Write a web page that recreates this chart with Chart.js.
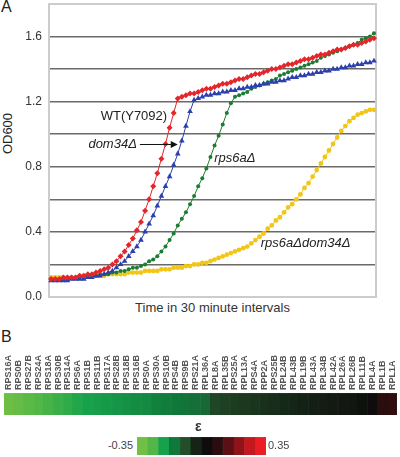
<!DOCTYPE html>
<html>
<head>
<meta charset="utf-8">
<script src="https://cdn.jsdelivr.net/npm/chart.js@4.4.1/dist/chart.umd.min.js"></script>
<style>
    html, body { margin: 0; padding: 0; background: #fff; }
    body { width: 400px; height: 457px; position: relative; overflow: hidden;
           font-family: "Liberation Sans", Arial, sans-serif; color: #222; }
    .abs { position: absolute; white-space: nowrap; }
    canvas { position: absolute; }
</style>
</head>
<body>
<div class="abs" style="left:1px; top:-2px; font-size:16px;">A</div>
<div class="abs" style="left:1px; top:328px; font-size:16px;">B</div>
<div class="abs" style="left:-15px; top:126px; font-size:13px; transform: rotate(-90deg); width:44px; text-align:center;">OD600</div>
<div class="abs" style="left:49px; top:300px; width:327px; text-align:center; font-size:13px; color:#333;">Time in 30 minute intervals</div>

<canvas id="growthChart" style="left:0; top:0;" width="400" height="320"></canvas>
<canvas id="heatStrip" style="left:0; top:340px;" width="400" height="80"></canvas>
<canvas id="scaleBar" style="left:137px; top:437px;" width="129" height="18"></canvas>

<div class="abs" style="left:100px; top:439px; width:33px; text-align:right; font-size:11px; color:#444;">-0.35</div>
<div class="abs" style="left:268px; top:439px; font-size:11px; color:#444;">0.35</div>
<div class="abs" style="left:195px; top:418px; font-size:14px; font-weight:bold; color:#333;">ε</div>

<script>
// --- Painel A: curvas de crescimento (OD600 a cada 30 min) ---
const wtValues = [
    0.11, 0.11, 0.11, 0.12, 0.12, 0.12, 0.12, 0.13, 0.13, 0.14,
    0.14, 0.15, 0.16, 0.17, 0.18, 0.20, 0.22, 0.25, 0.28, 0.32,
    0.36, 0.41, 0.46, 0.53, 0.60, 0.68, 0.76, 0.85, 0.94, 1.04,
    1.13, 1.22, 1.23, 1.24, 1.25, 1.25, 1.26, 1.27, 1.28, 1.28,
    1.29, 1.30, 1.31, 1.31, 1.32, 1.33, 1.34, 1.34, 1.35, 1.36,
    1.37, 1.37, 1.38, 1.39, 1.40, 1.40, 1.41, 1.42, 1.43, 1.43,
    1.44, 1.45, 1.46, 1.46, 1.47, 1.48, 1.49, 1.49, 1.50, 1.51,
    1.52, 1.52, 1.53, 1.54, 1.55, 1.55, 1.56, 1.57, 1.58, 1.59
];
const dom34Values = [
    0.10, 0.10, 0.10, 0.10, 0.10, 0.11, 0.11, 0.11, 0.11, 0.12,
    0.12, 0.13, 0.13, 0.14, 0.15, 0.16, 0.18, 0.20, 0.22, 0.25,
    0.28, 0.31, 0.35, 0.40, 0.45, 0.50, 0.56, 0.62, 0.68, 0.74,
    0.81, 0.88, 0.96, 1.05, 1.14, 1.21, 1.22, 1.23, 1.24, 1.24,
    1.25, 1.25, 1.26, 1.26, 1.27, 1.27, 1.28, 1.28, 1.29, 1.29,
    1.30, 1.30, 1.31, 1.31, 1.32, 1.32, 1.33, 1.33, 1.34, 1.35,
    1.35, 1.36, 1.36, 1.37, 1.37, 1.38, 1.38, 1.39, 1.39, 1.40,
    1.40, 1.41, 1.41, 1.42, 1.42, 1.43, 1.43, 1.44, 1.44, 1.45
];
const rps6aValues = [
    0.11, 0.11, 0.11, 0.11, 0.11, 0.12, 0.12, 0.12, 0.12, 0.13,
    0.13, 0.13, 0.14, 0.14, 0.14, 0.15, 0.15, 0.16, 0.16, 0.17,
    0.18, 0.18, 0.19, 0.20, 0.22, 0.23, 0.25, 0.28, 0.31, 0.35,
    0.39, 0.44, 0.48, 0.52, 0.57, 0.62, 0.68, 0.73, 0.79, 0.86,
    0.93, 0.99, 1.06, 1.13, 1.19, 1.23, 1.24, 1.25, 1.26, 1.28,
    1.29, 1.30, 1.31, 1.32, 1.33, 1.34, 1.36, 1.37, 1.38, 1.39,
    1.40, 1.41, 1.42, 1.43, 1.44, 1.45, 1.47, 1.48, 1.49, 1.50,
    1.51, 1.52, 1.53, 1.54, 1.55, 1.56, 1.58, 1.59, 1.60, 1.62
];
const doubleValues = [
    0.12, 0.12, 0.12, 0.12, 0.12, 0.12, 0.12, 0.13, 0.13, 0.13,
    0.13, 0.13, 0.13, 0.13, 0.14, 0.14, 0.14, 0.14, 0.14, 0.15,
    0.15, 0.15, 0.15, 0.16, 0.16, 0.16, 0.16, 0.17, 0.17, 0.17,
    0.18, 0.18, 0.18, 0.19, 0.19, 0.20, 0.20, 0.21, 0.21, 0.22,
    0.23, 0.24, 0.25, 0.26, 0.27, 0.28, 0.29, 0.30, 0.31, 0.33,
    0.35, 0.37, 0.39, 0.42, 0.44, 0.47, 0.49, 0.52, 0.55, 0.57,
    0.60, 0.63, 0.67, 0.70, 0.74, 0.78, 0.82, 0.86, 0.90, 0.94,
    0.98, 1.02, 1.05, 1.08, 1.10, 1.12, 1.13, 1.14, 1.15, 1.15
];
// intervalos de 30 minutos (um rótulo por ponto)
const timeLabels = wtValues.map((_, i) => i + 1);
const yTickValues = [0.0, 0.4, 0.8, 1.2, 1.6];

// --- Painel B: valores de epsilon por gene ---
const geneNames = [
    'RPS16A', 'RPS0B', 'RPS27B', 'RPS24A', 'RPS18A', 'RPS30B', 'RPS14A', 'RPS6A', 'RPS1B', 'RPS11B',
    'RPS17A', 'RPS28B', 'RPS18B', 'RPS16B', 'RPS0A', 'RPS30A', 'RPS10B', 'RPS4B', 'RPS9B', 'RPS21A',
    'RPL36A', 'RPL8A', 'RPL35B', 'RPS25A', 'RPL13A', 'RPS4A', 'RPP2A', 'RPS25B', 'RPL24B', 'RPL43B',
    'RPL19B', 'RPL43A', 'RPL34B', 'RPL42A', 'RPL26A', 'RPL26B', 'RPL11B', 'RPL4A', 'RPL1B', 'RPL1A'
];
const epsilonValues = [
    -0.315, -0.298, -0.280, -0.263, -0.251, -0.239, -0.228, -0.216, -0.204, -0.199,
    -0.193, -0.187, -0.181, -0.175, -0.169, -0.158, -0.152, -0.146, -0.140, -0.134,
    -0.123, -0.076, -0.070, -0.064, -0.059, -0.053, -0.047, -0.041, -0.035, -0.030,
    -0.024, -0.018, -0.012, -0.006, 0.000, 0.005, 0.017, 0.029, 0.087, 0.093
];
// escala de cores (12 blocos de -0.35 a 0.35)
const scaleColors = [
    '#71bf45', '#52b747', '#16a24b', '#11783b', '#224e2a', '#152416',
    '#0e0c0c', '#2a0d0f', '#5a1014', '#8e141a', '#c3181f', '#ea1c24'
];
const scaleMin = -0.35;
const scaleMax = 0.35;

const hexToRgb = h => [1, 3, 5].map(k => parseInt(h.slice(k, k + 2), 16));

// interpola a cor do valor de epsilon na escala
function epsilonColor(v) {
    let pos = (v - scaleMin) / (scaleMax - scaleMin) * scaleColors.length - 0.5;
    pos = Math.max(0, Math.min(scaleColors.length - 1, pos));
    const lo = Math.floor(pos), hi = Math.min(lo + 1, scaleColors.length - 1);
    const t = pos - lo;
    const a = hexToRgb(scaleColors[lo]), b = hexToRgb(scaleColors[hi]);
    const c = a.map((x, k) => Math.round(x + (b[k] - x) * t));
    return `rgb(${c[0]}, ${c[1]}, ${c[2]})`;
}

// textos dentro do gráfico, em coordenadas de dados
const curveNotes = [
    { text: 'WT(Y7092)', x: 28.4, y: 1.11, align: 'right', italic: false },
    { text: 'dom34Δ', x: 21.0, y: 0.94, align: 'right', italic: true, arrowTo: 31.0 },
    { text: 'rps6aΔ', x: 39.9, y: 0.85, align: 'left', italic: true },
    { text: 'rps6aΔdom34Δ', x: 51.3, y: 0.33, align: 'left', italic: true }
];

const fontFamily = '"Liberation Sans", Arial, sans-serif';

// moldura cinza clara em volta da área do gráfico
const framePlugin = {
    id: 'frame',
    beforeDatasetsDraw(chart) {
        const { ctx, chartArea: a } = chart;
        ctx.save();
        ctx.strokeStyle = '#cccccc';
        ctx.lineWidth = 2;
        ctx.strokeRect(a.left, a.top, a.right - a.left, a.bottom - a.top);
        ctx.restore();
    }
};

const notesPlugin = {
    id: 'notes',
    afterDatasetsDraw(chart) {
        const { ctx, scales } = chart;
        ctx.save();
        curveNotes.forEach(n => {
            const px = scales.x.getPixelForValue(n.x);
            const py = scales.y.getPixelForValue(n.y);
            ctx.font = `${n.italic ? 'italic ' : ''}13px ${fontFamily}`;
            ctx.fillStyle = '#222';
            ctx.textAlign = n.align;
            ctx.textBaseline = 'middle';
            ctx.fillText(n.text, px, py);
            if (n.arrowTo !== undefined) {
                const tip = scales.x.getPixelForValue(n.arrowTo);
                ctx.strokeStyle = '#111';
                ctx.lineWidth = 1;
                ctx.beginPath();
                ctx.moveTo(px + 3, py + 0.5);
                ctx.lineTo(tip - 5, py + 0.5);
                ctx.stroke();
                ctx.fillStyle = '#111';
                ctx.beginPath();
                ctx.moveTo(tip, py + 0.5);
                ctx.lineTo(tip - 7, py - 3);
                ctx.lineTo(tip - 7, py + 4);
                ctx.closePath();
                ctx.fill();
            }
        });
        ctx.restore();
    }
};

// nomes dos genes na vertical, saindo do topo da faixa
const geneLabelsPlugin = {
    id: 'geneLabels',
    afterDraw(chart) {
        const { ctx, scales, chartArea } = chart;
        ctx.save();
        ctx.font = `bold 9px ${fontFamily}`;
        ctx.fillStyle = '#555';
        ctx.textAlign = 'left';
        ctx.textBaseline = 'middle';
        geneNames.forEach((name, i) => {
            const x = scales.x.getPixelForValue(i);
            ctx.save();
            ctx.translate(x, chartArea.top - 3);
            ctx.rotate(-Math.PI / 2);
            ctx.fillText(name, 0, 0);
            ctx.restore();
        });
        ctx.restore();
    }
};

const makeSeries = (data, color, style, radius) => ({
    data: data,
    borderColor: color,
    backgroundColor: color,
    pointBackgroundColor: color,
    pointBorderColor: color,
    pointStyle: style,
    pointRadius: radius,
    borderWidth: 1,
    pointBorderWidth: 0,
    tension: 0
});

new Chart(document.getElementById('growthChart'), {
    type: 'line',
    data: {
        labels: timeLabels,
        datasets: [
            makeSeries(wtValues, '#e3262b', 'rectRot', 3),
            makeSeries(dom34Values, '#2b3fae', 'triangle', 3.3),
            makeSeries(rps6aValues, '#1c7d31', 'circle', 2),
            makeSeries(doubleValues, '#f2c617', 'circle', 2.4)
        ]
    },
    options: {
        responsive: false,
        animation: false,
        layout: { padding: { top: 3, right: 24, left: 0, bottom: 0 } },
        scales: {
            x: {
                offset: true,
                ticks: { display: false },
                grid: { display: false },
                border: { display: false },
                afterFit: s => { s.height = 23; }
            },
            y: {
                min: 0,
                max: 1.8,
                ticks: {
                    stepSize: 0.2,
                    padding: 7,
                    color: '#333',
                    font: { size: 12, family: fontFamily },
                    callback: v => yTickValues.some(t => Math.abs(t - v) < 1e-6) ? v.toFixed(1) : ''
                },
                grid: {
                    drawTicks: false,
                    lineWidth: 1.5,
                    color: c => (c.tick && (Math.abs(c.tick.value) < 1e-6 || Math.abs(c.tick.value - 1.8) < 1e-6)) ? '#cccccc' : '#6a6a6a'
                },
                border: { display: false },
                afterFit: s => { s.width = 49; s.paddingTop = 0; s.paddingBottom = 0; }
            }
        },
        plugins: { legend: { display: false }, tooltip: { enabled: false } }
    },
    plugins: [framePlugin, notesPlugin]
});

// faixa de cores com os genes
new Chart(document.getElementById('heatStrip'), {
    type: 'bar',
    data: {
        labels: geneNames,
        datasets: [{
            data: geneNames.map(() => 1),
            backgroundColor: epsilonValues.map(epsilonColor),
            borderColor: epsilonValues.map(epsilonColor),
            borderWidth: 0.5,
            barPercentage: 1,
            categoryPercentage: 1
        }]
    },
    options: {
        responsive: false,
        animation: false,
        layout: { padding: { top: 53, right: 3, left: 4, bottom: 5 } },
        scales: {
            x: { display: false },
            y: { display: false, min: 0, max: 1 }
        },
        plugins: { legend: { display: false }, tooltip: { enabled: false } }
    },
    plugins: [geneLabelsPlugin]
});

// legenda da escala de epsilon
new Chart(document.getElementById('scaleBar'), {
    type: 'bar',
    data: {
        labels: scaleColors.map((_, i) => i),
        datasets: [{
            data: scaleColors.map(() => 1),
            backgroundColor: scaleColors,
            borderColor: scaleColors,
            borderWidth: 0.5,
            barPercentage: 1,
            categoryPercentage: 1
        }]
    },
    options: {
        responsive: false,
        animation: false,
        layout: { padding: 0 },
        scales: {
            x: { display: false },
            y: { display: false, min: 0, max: 1 }
        },
        plugins: { legend: { display: false }, tooltip: { enabled: false } }
    }
});
</script>
</body>
</html>
